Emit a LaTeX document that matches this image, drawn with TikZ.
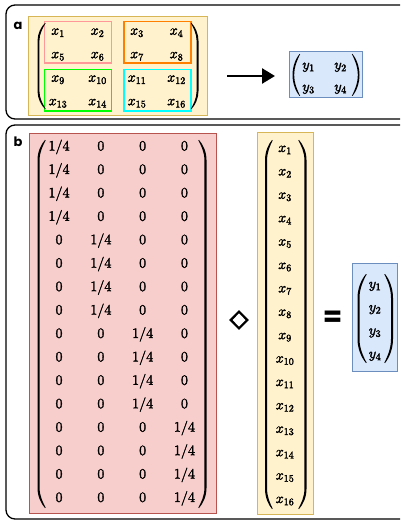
\documentclass[tikz,border=0pt]{standalone}
\usepackage{amsmath}
\usepackage{fontspec}
\newfontfamily\labelfont{Poppins}
\newfontfamily\symfont{DejaVu Sans}
\usetikzlibrary{matrix,arrows.meta}
\definecolor{yelfill}{HTML}{FFF2CC}
\definecolor{yelline}{HTML}{D6B656}
\definecolor{bluefill}{HTML}{DAE8FC}
\definecolor{blueline}{HTML}{6C8EBF}
\definecolor{redfill}{HTML}{F8CECC}
\definecolor{redline}{HTML}{B85450}
\definecolor{grppink}{HTML}{FF9999}
\definecolor{grporange}{HTML}{FF8000}
\definecolor{grpgreen}{HTML}{00FF00}
\definecolor{grpcyan}{HTML}{00FFFF}
\newcommand{\heavytext}[1]{\special{pdf:literal direct 2 Tr #1 w}}
% tall parenthesis: #1 tip x, #2 outer x, #3 top y, #4 bottom y, #5 curve length, #6 signed thickness
\newcommand{\bparen}[6]{%
  \fill (#1,#3) .. controls ({#2+0.45*(#1-#2)},{#3+0.22*#5}) and (#2,{#3+0.6*#5}) .. (#2,{#3+#5})
    -- (#2,{#4-#5}) .. controls (#2,{#4-0.6*#5}) and ({#2+0.45*(#1-#2)},{#4-0.22*#5}) .. (#1,#4)
    -- ({#1+0.35*(#6)},{#4-0.15}) .. controls ({#2+(#6)+0.45*(#1-#2)},{#4-0.27*#5}) and ({#2+(#6)},{#4-0.6*#5}) .. ({#2+(#6)},{#4-#5})
    -- ({#2+(#6)},{#3+#5}) .. controls ({#2+(#6)},{#3+0.6*#5}) and ({#2+(#6)+0.45*(#1-#2)},{#3+0.27*#5}) .. ({#1+0.35*(#6)},{#3+0.15}) -- cycle;}
\tikzset{
  panel/.style={draw=black, line width=1.3pt, rounded corners=9pt, inner sep=0pt},
  plabel/.style={font=\labelfont\bfseries\fontsize{13}{15}\selectfont, inner sep=0pt},
  yelbox/.style={draw=yelline, fill=yelfill, line width=0.8pt, inner sep=0pt},
  bluebox/.style={draw=blueline, fill=bluefill, line width=0.8pt, inner sep=0pt},
  redbox/.style={draw=redline, fill=redfill, line width=0.8pt, inner sep=0pt},
  grpbox/.style={draw=#1, line width=1.5pt, inner sep=0pt, minimum width=67pt, minimum height=41.5pt},
  mat/.style={matrix of math nodes,
    nodes={inner xsep=0pt, inner ysep=2pt, text height=10pt, text depth=4pt, anchor=center,
      font=\fontsize{14.4}{17}\selectfont\heavytext{0.3}}},
  redmat/.style={matrix of math nodes,
    nodes={inner xsep=0pt, inner ysep=2pt, text height=11pt, text depth=4pt, anchor=center,
      minimum width=26pt, font=\fontsize{14.4}{18}\selectfont\heavytext{0.3}}},
}
\begin{document}
\begin{tikzpicture}[x=1pt,y=-1pt]
\useasboundingbox (0,0) rectangle (400,521);
\clip (0,0) rectangle (400,521);
% panels
\node[panel, minimum width=414pt, minimum height=114pt] (panelA) at (213,62) {};
\node[panel, minimum width=414pt, minimum height=394pt] (panelB) at (213,322) {};
\node[plabel] (labA) at (18,26) {a};
\node[plabel] (labB) at (18,142) {b};
% panel a
\node[yelbox, minimum width=179pt, minimum height=98.3pt] (yelA) at (117.8,65.9) {};
\node[grpbox=grppink] (gp) at (78,42.5) {};
\node[grpbox=grporange] (go) at (157.3,42.5) {};
\node[grpbox=grpgreen] (gg) at (78,90.2) {};
\node[grpbox=grpcyan] (gc) at (157.3,90.2) {};
\matrix (mA) [mat, nodes={minimum width=22pt}, column sep=17.5pt, row sep=5.5pt] at (117.25,67) {
  x_1 & x_2 & x_3 & x_4 \\
  x_5 & x_6 & x_7 & x_8 \\
  x_9 & x_{10} & x_{11} & x_{12} \\
  x_{13} & x_{14} & x_{15} & x_{16} \\
};
\bparen{45}{37.5}{23}{109}{18}{1.9}
\bparen{191.5}{198.5}{23}{109}{18}{-1.9}
\coordinate (as) at (227,76);
\coordinate (ae) at (275,76);
\draw[line width=2.6pt, -{Triangle[length=13pt,width=15pt]}] (as) -- (ae);
\node[bluebox, minimum width=73pt, minimum height=45.6pt] (blueA) at (325.5,74.5) {};
\matrix (yA) [mat, nodes={minimum width=16pt}, column sep=16pt, row sep=4pt] at (324.5,77) {
  y_1 & y_2 \\
  y_3 & y_4 \\
};
\bparen{299.5}{292.5}{54}{96}{21}{1.7}
\bparen{352.5}{359.5}{54}{96}{21}{-1.7}
% panel b
\node[redbox, minimum width=187pt, minimum height=380pt] (redB) at (122.5,323) {};
\matrix (W) [redmat, column sep=15.8pt, row sep=4.43pt] at (121.75,322.75) {
  1/4 & 0 & 0 & 0 \\
  1/4 & 0 & 0 & 0 \\
  1/4 & 0 & 0 & 0 \\
  1/4 & 0 & 0 & 0 \\
  0 & 1/4 & 0 & 0 \\
  0 & 1/4 & 0 & 0 \\
  0 & 1/4 & 0 & 0 \\
  0 & 1/4 & 0 & 0 \\
  0 & 0 & 1/4 & 0 \\
  0 & 0 & 1/4 & 0 \\
  0 & 0 & 1/4 & 0 \\
  0 & 0 & 1/4 & 0 \\
  0 & 0 & 0 & 1/4 \\
  0 & 0 & 0 & 1/4 \\
  0 & 0 & 0 & 1/4 \\
  0 & 0 & 0 & 1/4 \\
};
\bparen{45}{37.5}{140}{508}{20}{2.1}
\bparen{199}{206.5}{140}{508}{20}{-2.1}
\node[inner sep=0pt, font=\symfont\bfseries\fontsize{24}{26}\selectfont\heavytext{0.9}] (dia) at (239,320) {◇};
\node[yelbox, minimum width=56pt, minimum height=382pt] (yelB) at (285,323) {};
\matrix (X) [mat, nodes={minimum width=24pt, inner ysep=2.5pt}, row sep=4.4pt] at (285,324.5) {
  x_1 \\ x_2 \\ x_3 \\ x_4 \\ x_5 \\ x_6 \\ x_7 \\ x_8 \\
  x_9 \\ x_{10} \\ x_{11} \\ x_{12} \\ x_{13} \\ x_{14} \\ x_{15} \\ x_{16} \\
};
\bparen{272}{265}{140}{509}{20}{2.1}
\bparen{299}{306.5}{140}{509}{20}{-2.1}
\node[inner sep=0pt, font=\labelfont\bfseries\fontsize{28}{30}\selectfont] (eq) at (332.5,319) {=};
\node[bluebox, minimum width=45pt, minimum height=108pt] (blueB) at (374.5,317) {};
\matrix (Y) [mat, nodes={minimum width=16pt, inner ysep=2.5pt}, row sep=4.3pt] at (375,320) {
  y_1 \\ y_2 \\ y_3 \\ y_4 \\
};
\bparen{366}{357.5}{274}{363}{24}{2}
\bparen{385}{393}{274}{363}{24}{-2}
\end{tikzpicture}
\end{document}
